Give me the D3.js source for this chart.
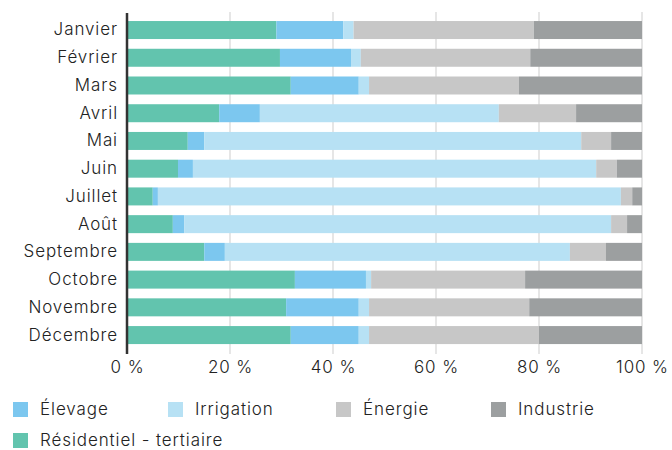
<!DOCTYPE html>
<html><head><meta charset="utf-8">
<script src="https://cdn.jsdelivr.net/npm/d3@7"></script>
<style>body{margin:0;background:#fff}svg{display:block}text{font-family:Inter,"Noto Sans",sans-serif;fill:#222;font-weight:300;letter-spacing:0.9px}</style>
</head><body><svg id="c" width="672" height="450"></svg>
<script>
const months = ["Janvier","Février","Mars","Avril","Mai","Juin","Juillet","Août","Septembre","Octobre","Novembre","Décembre"];
const seriesNames = ["Résidentiel - tertiaire","Élevage","Irrigation","Énergie","Industrie"];
const residentiel = [29,29.7,31.8,17.9,11.8,9.9,5,8.9,15,32.6,30.9,31.8];
const elevage     = [13,13.8,13.2,7.9,3.2,2.9,1,2.2,4,13.8,14.1,13.2];
const irrigation  = [2,1.9,2,46.4,73.2,78.3,89.9,82.9,67,1,2,2];
const energie     = [35,32.9,29.1,15,5.8,4,2.2,3.1,7,29.9,31.1,33];
const industrie   = [21,21.7,23.9,12.8,6,4.9,1.9,2.9,7,22.7,21.9,20];
const xTicks = [0,20,40,60,80,100];
const legendOrder = ["Élevage","Irrigation","Énergie","Industrie","Résidentiel - tertiaire"];

const colors = {"Résidentiel - tertiaire":"#62c4ae","Élevage":"#7cc7ef","Irrigation":"#b7e1f4","Énergie":"#c7c7c7","Industrie":"#9c9fa0"};
const seriesData = [residentiel,elevage,irrigation,energie,industrie];
const table = months.map((m,i)=>{const o={month:m};seriesNames.forEach((s,j)=>o[s]=seriesData[j][i]);return o;});
const stack = d3.stack().keys(seriesNames).offset(d3.stackOffsetExpand)(table);

const svg = d3.select("#c");
const x = d3.scaleLinear().domain([0,1]).range([127,642]);
const y = d3.scaleBand().domain(months).range([11.3,353.8]).padding(0.351);
const FS = "17px", FF = "Inter,'Noto Sans',sans-serif";

svg.append("g").selectAll("line").data(xTicks.slice(1)).join("line")
  .attr("x1",d=>x(d/100)).attr("x2",d=>x(d/100)).attr("y1",12).attr("y2",354)
  .attr("stroke","#e6e6e6").attr("stroke-width",2);

svg.append("g").selectAll("g").data(stack).join("g").attr("fill",d=>colors[d.key])
  .selectAll("rect").data(d=>d).join("rect")
  .attr("x",d=>x(d[0])).attr("width",d=>x(d[1])-x(d[0]))
  .attr("y",d=>y(d.data.month)).attr("height",y.bandwidth());

svg.append("line").attr("x1",127).attr("x2",127).attr("y1",13).attr("y2",354).attr("stroke","#333").attr("stroke-width",2.5);

const ya = svg.append("g").attr("transform","translate(118,0)").call(d3.axisLeft(y).tickSize(0).tickPadding(0));
ya.select(".domain").remove();
ya.selectAll("text").style("font-size",FS).attr("fill","#222").style("font-family",FF);

const xa = svg.append("g").attr("transform","translate(0,361)").call(d3.axisBottom(x).tickValues(xTicks.map(d=>d/100)).tickFormat(d=>Math.round(d*100)+" %").tickSize(0).tickPadding(0));
xa.select(".domain").remove();
xa.selectAll("text").style("font-size",FS).attr("fill","#222").style("font-family",FF);

const legPos = [[13,402],[168,402],[336,402],[491,402],[13,433]];
const lg = svg.append("g").selectAll("g").data(legendOrder).join("g")
  .attr("transform",(d,i)=>`translate(${legPos[i][0]},${legPos[i][1]})`);
lg.append("rect").attr("width",15).attr("height",15).attr("fill",d=>colors[d]);
lg.append("text").attr("x",27).attr("y",7.5).attr("dy","0.35em").style("font-size",FS).text(d=>d);
</script></body></html>
